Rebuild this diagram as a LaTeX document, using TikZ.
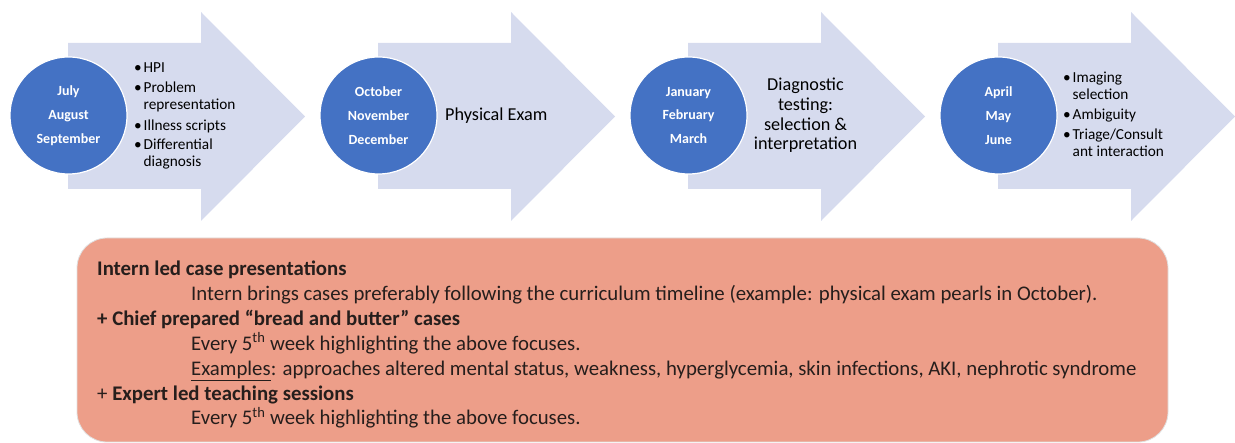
\documentclass[tikz,border=0pt]{standalone}
\usepackage{fontspec}
\setmainfont{Carlito}
\definecolor{arrowfill}{RGB}{214,219,238}
\definecolor{monthblue}{RGB}{68,114,196}
\definecolor{planfill}{RGB}{237,158,137}
\definecolor{plantext}{RGB}{38,30,28}
% bullet with a hanging indent
\newcommand{\bul}{\makebox[9.5pt][l]{\textbullet}}
\newcommand{\hang}{\hspace*{9.5pt}}
\newcommand{\planindent}{\hspace*{94pt}}
\begin{document}
\begin{tikzpicture}[x=1pt,y=-1pt,
  months/.style={circle, fill=monthblue, draw=white, line width=1.2pt,
    minimum size=117pt, inner sep=0pt, text=white, align=center,
    font=\bfseries\fontsize{14}{23.7}\selectfont},
  topics/.style={anchor=base west, inner sep=0pt, align=left,
    font=\fontsize{15.3}{17}\selectfont},
  single/.style={inner sep=0pt, align=center, font=\fontsize{18.2}{19.8}\selectfont},
  planbox/.style={rounded corners=30pt, fill=planfill, draw=white!88!black,
    line width=0.8pt, minimum width=1091pt, minimum height=204pt},
  plantxt/.style={anchor=base west, inner sep=0pt, align=left, text=plantext,
    font=\fontsize{20.8}{24.9}\selectfont}]
  \useasboundingbox (0,0) rectangle (1235,443);
  % the four quarters as block arrows
  \foreach \i in {0,...,3}
    \fill[arrowfill] ({68+310*\i},43) -- ({201+310*\i},43) -- ({201+310*\i},12)
      -- ({305+310*\i},116.5) -- ({201+310*\i},221) -- ({201+310*\i},189)
      -- ({68+310*\i},189) -- cycle;
  % months
  \node[months] (q1) at (68.5,115.5) {July\\August\\September};
  \node[months] (q2) at (378.5,115.5) {October\\November\\December};
  \node[months] (q3) at (688.5,115.5) {January\\February\\March};
  \node[months] (q4) at (998.5,115.5) {April\\May\\June};
  % topics of each quarter (base = last line)
  \node[topics] (t1) at (134,166.7) {\bul HPI\\[3.3pt]\bul Problem\\\hang representation\\[3.3pt]
    \bul Illness scripts\\[2.5pt]\bul Differential\\\hang diagnosis};
  \node[single, anchor=base west] (t2) at (445,120.7) {Physical Exam};
  \node[single, anchor=base] (t3) at (805.5,150) {Diagnostic\\testing:\\selection \&\\interpretation};
  \node[topics] (t4) at (1063,156.7) {\bul Imaging\\\hang selection\\[2.5pt]\bul Ambiguity\\[3.5pt]
    \bul Triage/Consult\\\hang ant interaction};
  % teaching formats
  \node[planbox] (plan) at (622.5,340) {};
  \node[plantxt] (formats) at (97,425) {\textbf{Intern led case presentations}\\
    \planindent Intern brings cases preferably following the curriculum timeline (example: physical exam pearls in October).\\
    \textbf{+ Chief prepared “bread and butter” cases}\\
    \planindent Every 5\textsuperscript{th} week highlighting the above focuses.\\
    \planindent\underline{Examples}: approaches altered mental status, weakness, hyperglycemia, skin infections, AKI, nephrotic syndrome\\
    + \textbf{Expert led teaching sessions}\\
    \planindent Every 5\textsuperscript{th} week highlighting the above focuses.};
\end{tikzpicture}
\end{document}
